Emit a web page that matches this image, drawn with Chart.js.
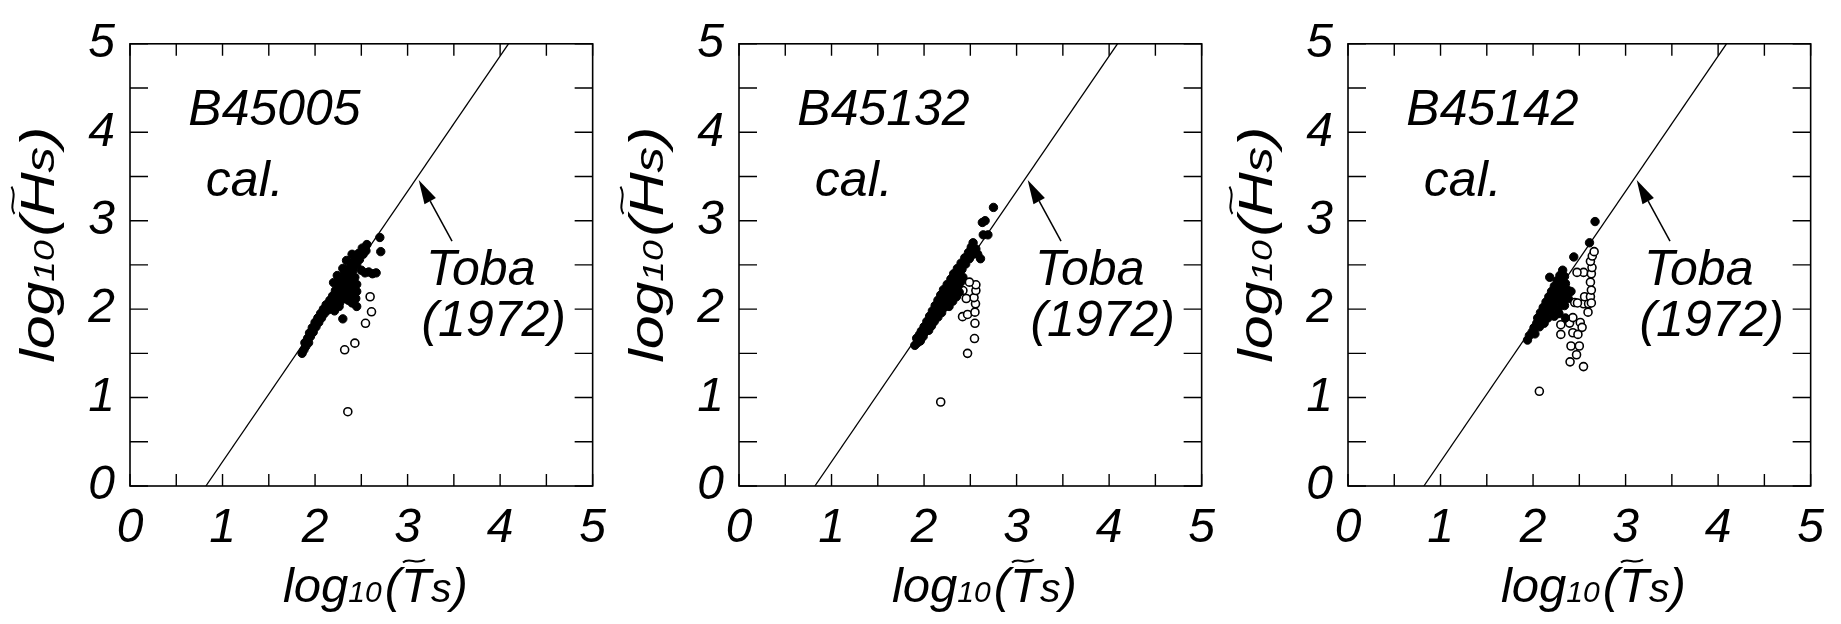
<!DOCTYPE html>
<html>
<head>
<meta charset="utf-8">
<script src="https://cdn.jsdelivr.net/npm/chart.js@4"></script>
<style>
html, body { margin: 0; padding: 0; background: #fff; }
body { width: 1841px; height: 624px; position: relative; overflow: hidden; }
.panel { position: absolute; top: 0; width: 620px; height: 624px; }
</style>
</head>
<body>
<div class="panel" style="left:0px"><canvas id="panel0" width="620" height="624"></canvas></div>
<div class="panel" style="left:609px"><canvas id="panel1" width="620" height="624"></canvas></div>
<div class="panel" style="left:1218px"><canvas id="panel2" width="620" height="624"></canvas></div>
<script>
const FONT = "'Liberation Sans', Arial, sans-serif";

// axis values
const axisTicks = [0, 1, 2, 3, 4, 5];
const minorTicks = [0, 0.5, 1, 1.5, 2, 2.5, 3, 3.5, 4, 4.5, 5];

// Toba (1972) 3/2 law line, end points
const tobaLine = [{ x: 0.82, y: 0 }, { x: 4.09, y: 5 }];
const tobaArrow = [[3.48, 2.77], [3.12, 3.46]]; // tail, tip

const stations = ['B45005', 'B45132', 'B45142'];

// dense (black) part of each scatter
const denseB45005 = [
	[1.86,1.50],[1.88,1.54],[1.90,1.58],[1.89,1.62],[1.93,1.62],[1.92,1.67],[1.95,1.69],[1.94,1.73],
	[1.98,1.74],[1.97,1.79],[2.01,1.80],[2.00,1.85],[2.04,1.85],[2.03,1.90],[2.07,1.90],[2.06,1.95],
	[2.10,1.95],[2.09,2.00],[2.14,1.99],[2.12,2.05],[2.18,2.04],[2.16,2.10],[2.22,2.08],[2.27,2.08],
	[2.19,2.15],[2.25,2.14],[2.31,2.12],[2.36,2.10],[2.22,2.21],[2.28,2.20],[2.34,2.18],[2.39,2.16],
	[2.25,2.27],[2.31,2.26],[2.37,2.24],[2.42,2.22],[2.28,2.33],[2.34,2.32],[2.40,2.30],[2.31,2.39],
	[2.37,2.38],[2.43,2.36],[2.35,2.45],[2.41,2.44],[2.39,2.51],[2.45,2.50],[2.43,2.57],[2.48,2.56],
	[2.47,2.63],[2.52,2.62],[2.51,2.69],[2.56,2.73],[2.55,2.66],[2.58,2.42],[2.62,2.40],[2.66,2.41],
	[2.45,2.03],[2.30,1.89],[2.70,2.81],[2.71,2.65],[2.26,2.03],[2.21,1.98],[2.40,2.07],[2.44,2.12],
	[2.45,2.20],[2.45,2.28],[2.20,2.30],[2.24,2.38],[2.30,2.46],[2.34,2.55],[2.40,2.62],[2.50,2.44],
	[2.54,2.41]
];
const openB45005 = [
	[2.595,2.14],[2.61,1.97],[2.545,1.84],[2.43,1.615],[2.32,1.54],[2.354,0.84]
];

const denseB45132 = [
	[1.90,1.59],[1.93,1.62],[1.96,1.64],[1.92,1.67],[1.95,1.71],[1.99,1.69],[1.97,1.75],[2.01,1.74],
	[2.05,1.76],[2.00,1.80],[2.04,1.81],[2.08,1.81],[2.03,1.86],[2.07,1.87],[2.11,1.86],[2.06,1.92],
	[2.10,1.92],[2.15,1.91],[2.09,1.98],[2.14,1.97],[2.19,1.96],[2.12,2.04],[2.17,2.03],[2.22,2.02],
	[2.27,2.03],[2.15,2.10],[2.20,2.09],[2.26,2.08],[2.31,2.09],[2.18,2.16],[2.23,2.15],[2.29,2.14],
	[2.35,2.14],[2.21,2.22],[2.27,2.21],[2.33,2.20],[2.38,2.19],[2.25,2.28],[2.31,2.27],[2.37,2.26],
	[2.40,2.31],[2.29,2.34],[2.35,2.33],[2.32,2.40],[2.38,2.39],[2.42,2.36],[2.36,2.46],[2.41,2.45],
	[2.40,2.52],[2.45,2.51],[2.44,2.58],[2.49,2.57],[2.48,2.64],[2.53,2.62],[2.51,2.70],[2.56,2.68],
	[2.53,2.75],[2.58,2.62],[2.61,2.57],[2.64,2.84],[2.69,2.84],[2.63,2.98],[2.66,3.00],[2.75,3.15]
];
const openB45132 = [
	[2.18,0.95],[2.47,1.50],[2.545,1.667],[2.55,1.84],[2.416,1.915],[2.47,1.94],[2.55,1.966],
	[2.556,2.06],[2.54,2.13],[2.456,2.12],[2.56,2.21],[2.56,2.275],[2.49,2.305],[2.42,2.21]
];

const denseB45142 = [
	[1.94,1.65],[1.96,1.70],[1.99,1.74],[2.02,1.72],[2.01,1.79],[2.04,1.84],[2.07,1.80],[2.05,1.90],
	[2.09,1.88],[2.12,1.84],[2.08,1.96],[2.12,1.95],[2.16,1.90],[2.11,2.02],[2.15,2.01],[2.19,1.98],
	[2.23,1.92],[2.14,2.08],[2.18,2.07],[2.22,2.04],[2.27,2.00],[2.17,2.14],[2.21,2.13],[2.25,2.11],
	[2.30,2.08],[2.34,2.04],[2.20,2.20],[2.24,2.19],[2.28,2.17],[2.33,2.15],[2.38,2.12],[2.23,2.26],
	[2.27,2.25],[2.32,2.23],[2.37,2.22],[2.41,2.20],[2.26,2.32],[2.30,2.31],[2.35,2.29],[2.29,2.38],
	[2.34,2.37],[2.32,2.44],[2.18,2.36],[2.44,2.59],[2.61,2.75],[2.67,2.99],[2.28,1.95],[2.35,1.90],
	[2.34,2.11]
];
const openB45142 = [
	[2.068,1.071],[2.40,1.404],[2.545,1.35],[2.47,1.484],[2.41,1.583],[2.50,1.583],[2.30,1.714],
	[2.43,1.733],[2.485,1.714],[2.30,1.824],[2.395,1.842],[2.51,1.849],[2.53,1.794],[2.43,1.904],
	[2.594,1.966],[2.546,2.06],[2.60,2.06],[2.45,2.075],[2.557,2.14],[2.62,2.14],[2.63,2.215],
	[2.62,2.305],[2.546,2.415],[2.63,2.40],[2.637,2.47],[2.62,2.54],[2.475,2.415],[2.64,2.60],
	[2.66,2.65],[2.48,2.07],[2.63,2.07]
];

const denseSets = [denseB45005, denseB45132, denseB45142];
const openSets = [openB45005, openB45132, openB45142];

// label anchors (data units, left / baseline)
const stationLabelAt = [0.63, 4.08];
const calLabelAt = [0.82, 3.28];
const tobaLabelAt = [3.20, 2.27];
const yearLabelAt = [3.15, 1.70];

function font(size) {
	return 'italic ' + size + 'px ' + FONT;
}

function toPoints(arr) {
	return arr.map(p => ({ x: p[0], y: p[1] }));
}

function drawTilde(ctx, x0, y, w) {
	ctx.beginPath();
	ctx.moveTo(x0, y + 1.5);
	ctx.bezierCurveTo(x0 + w * 0.3, y - 4.5, x0 + w * 0.6, y + 4.5, x0 + w, y - 1.5);
	ctx.lineWidth = 2;
	ctx.stroke();
}

// log10(~X s) with subscript 10; stretch widens the text along its run
function drawAxisTitle(ctx, cx, cy, angle, sym, stretch) {
	const parts = [['log', 49], ['10', 30], ['(', 49], [sym, 49], ['s', 41], [')', 49]];
	ctx.save();
	ctx.translate(cx, cy);
	ctx.rotate(angle);
	ctx.scale(stretch, 1);
	ctx.textAlign = 'left';
	ctx.textBaseline = 'alphabetic';
	let w = 0;
	for (const [t, s] of parts) {
		ctx.font = font(s);
		w += ctx.measureText(t).width + (t === '10' ? 3 : 0);
	}
	let x = -w / 2;
	for (const [t, s] of parts) {
		ctx.font = font(s);
		ctx.fillText(t, x, 0);
		if (t === sym)
			drawTilde(ctx, x + 2, -41, 22);
		x += ctx.measureText(t).width + (t === '10' ? 3 : 0);
	}
	ctx.restore();
}

const framePlugin = {
	id: 'frame',
	afterDatasetsDraw(chart, args, opts) {
		const { ctx, chartArea: a, scales: { x, y } } = chart;
		ctx.save();
		ctx.strokeStyle = '#000';
		ctx.fillStyle = '#000';

		// frame + inward ticks on all four sides
		ctx.lineWidth = 1.6;
		ctx.strokeRect(a.left, a.top, a.right - a.left, a.bottom - a.top);
		ctx.lineWidth = 1.4;
		ctx.beginPath();
		for (const v of minorTicks) {
			const px = x.getPixelForValue(v);
			ctx.moveTo(px, a.bottom); ctx.lineTo(px, a.bottom - 12);
			ctx.moveTo(px, a.top); ctx.lineTo(px, a.top + 12);
			const py = y.getPixelForValue(v);
			ctx.moveTo(a.left, py); ctx.lineTo(a.left + 18, py);
			ctx.moveTo(a.right, py); ctx.lineTo(a.right - 18, py);
		}
		ctx.stroke();

		// text labels
		ctx.textAlign = 'left';
		ctx.textBaseline = 'alphabetic';
		ctx.font = font(50);
		ctx.fillText(opts.station, x.getPixelForValue(stationLabelAt[0]), y.getPixelForValue(stationLabelAt[1]));
		ctx.fillText('cal.', x.getPixelForValue(calLabelAt[0]), y.getPixelForValue(calLabelAt[1]));
		ctx.fillText('Toba', x.getPixelForValue(tobaLabelAt[0]), y.getPixelForValue(tobaLabelAt[1]));
		ctx.fillText('(1972)', x.getPixelForValue(yearLabelAt[0]), y.getPixelForValue(yearLabelAt[1]));

		// arrow to the Toba line
		const tx = x.getPixelForValue(tobaArrow[0][0]), ty = y.getPixelForValue(tobaArrow[0][1]);
		const hx = x.getPixelForValue(tobaArrow[1][0]), hy = y.getPixelForValue(tobaArrow[1][1]);
		const ang = Math.atan2(hy - ty, hx - tx);
		const len = 24, half = 6.5;
		const bx = hx - len * Math.cos(ang), by = hy - len * Math.sin(ang);
		ctx.lineWidth = 1.5;
		ctx.beginPath();
		ctx.moveTo(tx, ty);
		ctx.lineTo(bx, by);
		ctx.stroke();
		ctx.beginPath();
		ctx.moveTo(hx, hy);
		ctx.lineTo(bx + half * Math.sin(ang), by - half * Math.cos(ang));
		ctx.lineTo(bx - half * Math.sin(ang), by + half * Math.cos(ang));
		ctx.closePath();
		ctx.fill();

		// axis titles
		const mid = (a.left + a.right) / 2;
		drawAxisTitle(ctx, mid + 14, 602, 0, 'T', 1.0);
		drawAxisTitle(ctx, 54, a.top + 201, -Math.PI / 2, 'H', 1.24);

		ctx.restore();
	}
};

function makeAxis(afterFit) {
	return {
		type: 'linear',
		min: 0,
		max: 5,
		afterBuildTicks: (scale) => { scale.ticks = axisTicks.map(v => ({ value: v })); },
		afterFit: afterFit,
		grid: { display: false, drawTicks: false },
		border: { display: false },
		ticks: {
			color: '#000',
			font: { family: FONT, style: 'italic', size: 48 },
			maxRotation: 0,
			autoSkip: false
		}
	};
}

stations.forEach((station, i) => {
	const xAxis = makeAxis(scale => { scale.height = 138; });
	xAxis.ticks.padding = 14;
	const yAxis = makeAxis(scale => { scale.width = 130; });
	yAxis.ticks.padding = 15;

	new Chart(document.getElementById('panel' + i), {
		type: 'scatter',
		data: {
			datasets: [{
				label: 'Toba (1972)',
				type: 'line',
				data: tobaLine,
				borderColor: '#000',
				borderWidth: 1.3,
				pointRadius: 0,
				fill: false
			}, {
				label: 'cal. (dense)',
				data: toPoints(denseSets[i]),
				backgroundColor: '#000',
				borderColor: '#000',
				borderWidth: 1,
				pointRadius: 4.2
			}, {
				label: 'cal.',
				data: toPoints(openSets[i]),
				backgroundColor: '#fff',
				borderColor: '#000',
				borderWidth: 1.6,
				pointRadius: 4
			}]
		},
		options: {
			responsive: false,
			animation: false,
			layout: { padding: { left: 0, right: 27, top: 29, bottom: 0 } },
			scales: { x: xAxis, y: yAxis },
			plugins: {
				legend: { display: false },
				tooltip: { enabled: false },
				frame: { station: station }
			}
		},
		plugins: [framePlugin]
	});
});
</script>
</body>
</html>
